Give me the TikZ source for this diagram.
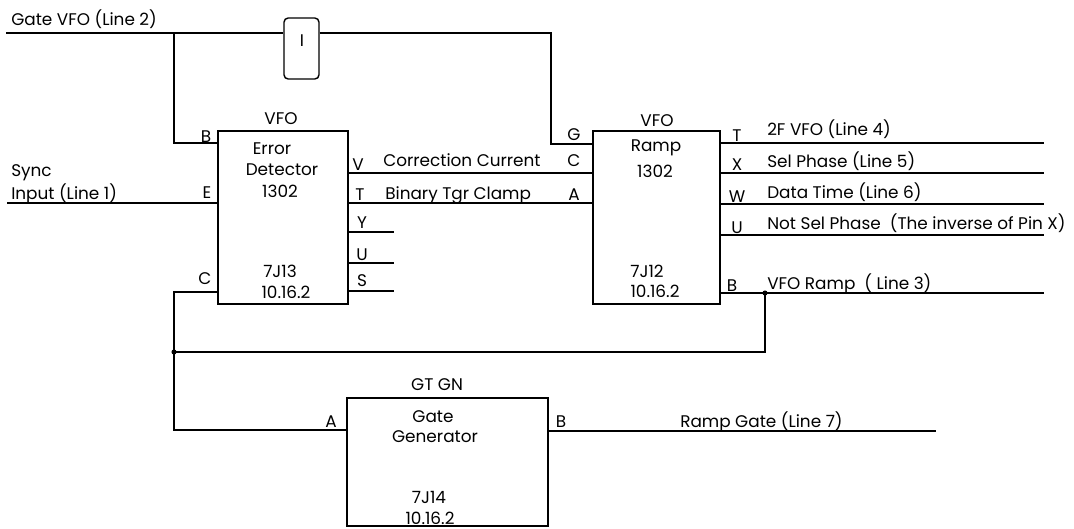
\documentclass[tikz,border=0pt]{standalone}
\usepackage{fontspec}
\setmainfont{Poppins}
\usetikzlibrary{positioning, calc}
\tikzset{
    unit/.style={rectangle, draw=black, line width=1.3pt, inner sep=0pt},
    wire/.style={draw=black, line width=0.9pt},
    lbl/.style={anchor=base, inner sep=0pt, font=\fontsize{12}{14}\selectfont},
    lblw/.style={anchor=base west, inner sep=0pt, font=\fontsize{12}{14}\selectfont},
    dot/.style={circle, fill=black, inner sep=0pt, minimum size=3.6pt}
}
\begin{document}
\begin{tikzpicture}[x=0.025cm, y=-0.025cm]
    \useasboundingbox (0,0) rectangle (1074,528);

    % Blocks
    \node[unit, minimum width=3.25cm, minimum height=4.325cm] (ed) at (283,217.5) {};
    \node[unit, minimum width=3.175cm, minimum height=4.325cm] (ramp) at (656.5,217.5) {};
    \node[unit, minimum width=5.025cm, minimum height=3.2cm] (gg) at (447.5,462) {};
    \node[unit, line width=1pt, rounded corners=3pt, minimum width=0.875cm, minimum height=1.525cm] (inv) at (301.5,48.5) {};
    \node[lbl] (invT) at (302,46) {I};

    % Error Detector text
    \node[lbl] (edTop) at (281,124) {VFO};
    \node[lbl] (ed1) at (272,154) {Error};
    \node[lbl] (ed2) at (282,175) {Detector};
    \node[lbl] (ed3) at (280,197) {1302};
    \node[lbl] (ed4) at (280,277) {7J13};
    \node[lbl] (ed5) at (286,298) {10.16.2};

    % Ramp text
    \node[lbl] (rpTop) at (657,126) {VFO};
    \node[lbl] (rp1) at (656,151) {Ramp};
    \node[lbl] (rp2) at (655,177) {1302};
    \node[lbl] (rp3) at (647,277) {7J12};
    \node[lbl] (rp4) at (655,297) {10.16.2};

    % Gate Generator text
    \node[lbl] (ggTop) at (437,390) {GT GN};
    \node[lbl] (gg1) at (433,422) {Gate};
    \node[lbl] (gg2) at (435,442) {Generator};
    \node[lbl] (gg3) at (429,503) {7J14};
    \node[lbl] (gg4) at (430,524) {10.16.2};

    % Pin letters
    \node[lbl] (edB) at (206,142) {B};
    \node[lbl] (edE) at (207,198) {E};
    \node[lbl] (edC) at (205,284) {C};
    \node[lbl] (edV) at (358,170) {V};
    \node[lbl] (edT) at (360,200) {T};
    \node[lbl] (edY) at (362,228) {Y};
    \node[lbl] (edU) at (362,260) {U};
    \node[lbl] (edS) at (362,286) {S};
    \node[lbl] (rpG) at (574,140) {G};
    \node[lbl] (rpC) at (574,166) {C};
    \node[lbl] (rpA) at (574,200) {A};
    \node[lbl] (rpT) at (737,141) {T};
    \node[lbl] (rpX) at (737,170) {X};
    \node[lbl] (rpW) at (737,202) {W};
    \node[lbl] (rpU) at (737,233) {U};
    \node[lbl] (rpB) at (732,291) {B};
    \node[lbl] (ggA) at (331,427) {A};
    \node[lbl] (ggB) at (561,427) {B};

    % Signal names
    \node[lblw] (sGate) at (11,25) {Gate VFO (Line 2)};
    \node[lblw] (sSync) at (11,176) {Sync};
    \node[lblw] (sIn) at (11,199) {Input (Line 1)};
    \node[lblw] (sCorr) at (383,166) {Correction Current};
    \node[lblw] (sBin) at (385,199) {Binary Tgr Clamp};
    \node[lblw] (s2F) at (767,135) {2F VFO (Line 4)};
    \node[lblw] (sSel) at (767,167) {Sel Phase (Line 5)};
    \node[lblw] (sData) at (767,198) {Data Time (Line 6)};
    \node[lblw] (sNot) at (767,229) {Not Sel Phase\ \ (The inverse of Pin X)};
    \node[lblw] (sRamp) at (767,289) {VFO Ramp\ \ ( Line 3)};
    \node[lblw] (sGt) at (680,427) {Ramp Gate (Line 7)};

    % Gate VFO line
    \coordinate (gvIn) at (6,33);
    \coordinate (gvTap) at (174,33);
    \coordinate (gvTurn) at (551,33);
    \draw[wire] (gvIn) -- (inv.west |- gvIn);
    \draw[wire] (inv.east |- gvIn) -- (gvTurn) |- (ramp.west |- 0,144);
    \draw[wire] (gvTap) |- (ed.west |- 0,143);

    % Sync input
    \coordinate (syIn) at (7,203);
    \draw[wire] (syIn) -- (ed.west |- syIn);

    % Feedback loop
    \coordinate (jL) at (174,352);
    \coordinate (jR) at (765,293);
    \draw[wire] (ed.west |- 0,292) -| (jL) |- (gg.west |- 0,430);
    \draw[wire] (jL) -| (jR);
    \node[dot] (jLdot) at (jL) {};
    \node[dot] (jRdot) at (jR) {};

    % Error Detector outputs
    \draw[wire] (ed.east |- 0,173) -- (ramp.west |- 0,173);
    \draw[wire] (ed.east |- 0,203) -- (ramp.west |- 0,203);
    \foreach \y in {232,263,291}
        \draw[wire] (ed.east |- 0,\y) -- ++(45,0);

    % Ramp outputs
    \foreach \y in {143,173,204,235,293}
        \draw[wire] (ramp.east |- 0,\y) -- ++(323,0);

    % Gate Generator output
    \draw[wire] (gg.east |- 0,431) -- ++(387,0);
\end{tikzpicture}
\end{document}
